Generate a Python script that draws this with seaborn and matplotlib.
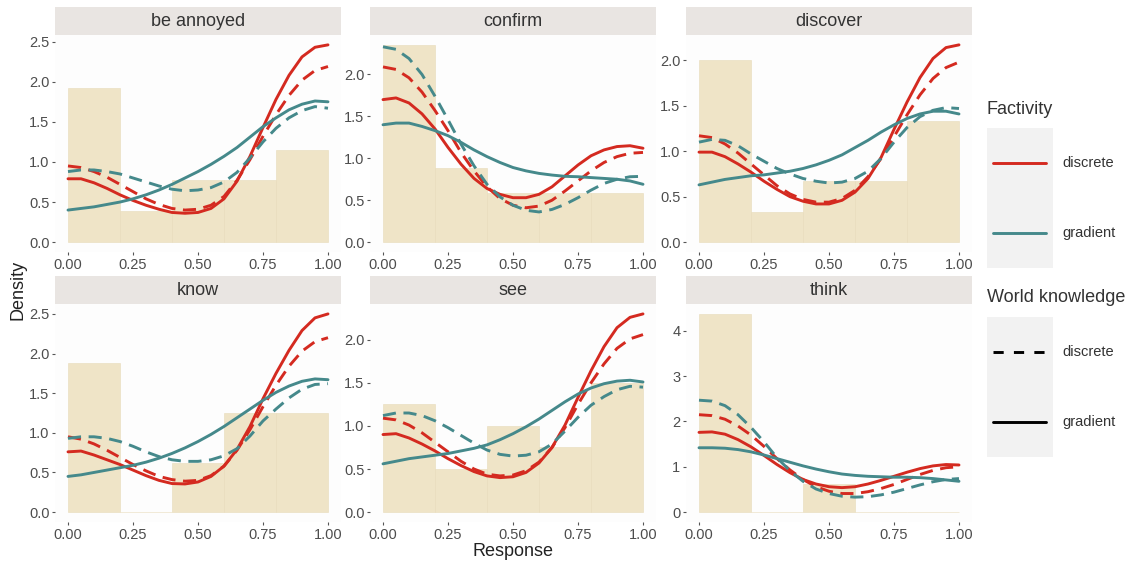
import numpy as np
import pandas as pd
import matplotlib
matplotlib.use("Agg")
import matplotlib.pyplot as plt
import seaborn as sns
from matplotlib.patches import Rectangle
from matplotlib.lines import Line2D

sns.set_theme(style="white")
plt.rcParams["font.family"] = ["Liberation Sans", "DejaVu Sans"]

response = [0.00, 0.05, 0.10, 0.15, 0.20, 0.25, 0.30, 0.35, 0.40, 0.45, 0.50,
            0.55, 0.60, 0.65, 0.70, 0.75, 0.80, 0.85, 0.90, 0.95, 1.00]
bin_left = [0.0, 0.2, 0.4, 0.6, 0.8]

predicates = ["be annoyed", "confirm", "discover", "know", "see", "think"]

# histogram densities (5 bins of width 0.2)
annoyed_hist = [1.923, 0.385, 0.769, 0.769, 1.154]
confirm_hist = [2.353, 0.882, 0.588, 0.588, 0.588]
discover_hist = [2.000, 0.333, 0.667, 0.667, 1.333]
know_hist = [1.875, 0.0, 0.625, 1.25, 1.25]
see_hist = [1.25, 0.5, 1.0, 0.75, 1.5]
think_hist = [4.375, 0.0, 0.625, 0.0, 0.0]

# curves: <predicate>_<factivity>_<world knowledge>
annoyed_disc_disc = [0.95, 0.93, 0.88, 0.81, 0.72, 0.63, 0.54, 0.47, 0.42, 0.40, 0.41,
                     0.46, 0.57, 0.77, 1.03, 1.32, 1.59, 1.83, 2.02, 2.14, 2.19]
annoyed_disc_grad = [0.79, 0.79, 0.74, 0.67, 0.59, 0.52, 0.46, 0.41, 0.37, 0.36, 0.37,
                     0.42, 0.54, 0.76, 1.07, 1.43, 1.78, 2.08, 2.31, 2.43, 2.46]
annoyed_grad_disc = [0.88, 0.90, 0.90, 0.88, 0.85, 0.80, 0.75, 0.70, 0.66, 0.64, 0.65,
                     0.68, 0.75, 0.87, 1.05, 1.25, 1.42, 1.55, 1.64, 1.69, 1.67]
annoyed_grad_grad = [0.40, 0.42, 0.44, 0.47, 0.50, 0.54, 0.59, 0.65, 0.72, 0.80, 0.88,
                     0.97, 1.07, 1.18, 1.31, 1.44, 1.55, 1.65, 1.72, 1.76, 1.75]

confirm_disc_disc = [2.09, 2.06, 1.96, 1.79, 1.57, 1.33, 1.07, 0.85, 0.66, 0.52, 0.44,
                     0.41, 0.43, 0.50, 0.61, 0.73, 0.85, 0.95, 1.02, 1.06, 1.07]
confirm_disc_grad = [1.70, 1.72, 1.66, 1.53, 1.35, 1.13, 0.93, 0.76, 0.64, 0.57, 0.53,
                     0.53, 0.57, 0.66, 0.79, 0.92, 1.03, 1.10, 1.14, 1.15, 1.12]
confirm_grad_disc = [2.33, 2.30, 2.19, 2.00, 1.74, 1.46, 1.17, 0.91, 0.69, 0.54, 0.44,
                     0.38, 0.36, 0.39, 0.45, 0.53, 0.62, 0.70, 0.75, 0.78, 0.785]
confirm_grad_grad = [1.40, 1.42, 1.42, 1.38, 1.33, 1.27, 1.19, 1.10, 1.02, 0.95, 0.89,
                     0.85, 0.82, 0.80, 0.785, 0.78, 0.77, 0.76, 0.75, 0.73, 0.69]

discover_disc_disc = [1.17, 1.15, 1.08, 0.98, 0.86, 0.74, 0.62, 0.53, 0.47, 0.44, 0.44,
                      0.48, 0.57, 0.72, 0.92, 1.16, 1.40, 1.62, 1.80, 1.92, 1.98]
discover_disc_grad = [0.99, 0.99, 0.94, 0.86, 0.77, 0.67, 0.58, 0.50, 0.45, 0.42, 0.42,
                      0.46, 0.55, 0.70, 0.93, 1.24, 1.54, 1.81, 2.02, 2.14, 2.17]
discover_grad_disc = [1.10, 1.13, 1.12, 1.06, 0.97, 0.89, 0.81, 0.75, 0.70, 0.67, 0.65,
                      0.66, 0.70, 0.78, 0.92, 1.10, 1.26, 1.38, 1.45, 1.48, 1.47]
discover_grad_grad = [0.63, 0.66, 0.69, 0.71, 0.73, 0.74, 0.76, 0.78, 0.81, 0.85, 0.90,
                      0.96, 1.04, 1.12, 1.21, 1.29, 1.36, 1.41, 1.44, 1.44, 1.41]

know_disc_disc = [0.95, 0.92, 0.86, 0.78, 0.69, 0.60, 0.52, 0.45, 0.41, 0.39, 0.40,
                  0.46, 0.58, 0.78, 1.04, 1.33, 1.60, 1.84, 2.03, 2.15, 2.20]
know_disc_grad = [0.76, 0.77, 0.72, 0.66, 0.60, 0.53, 0.46, 0.40, 0.36, 0.355, 0.38,
                  0.45, 0.58, 0.79, 1.08, 1.43, 1.75, 2.04, 2.29, 2.45, 2.50]
know_grad_disc = [0.93, 0.95, 0.95, 0.93, 0.89, 0.83, 0.76, 0.70, 0.66, 0.64, 0.64,
                  0.66, 0.71, 0.80, 0.96, 1.15, 1.30, 1.44, 1.55, 1.61, 1.62]
know_grad_grad = [0.45, 0.47, 0.50, 0.53, 0.56, 0.59, 0.63, 0.68, 0.74, 0.81, 0.89,
                  0.98, 1.08, 1.19, 1.30, 1.41, 1.51, 1.59, 1.65, 1.68, 1.67]

see_disc_disc = [1.09, 1.07, 1.01, 0.92, 0.81, 0.70, 0.59, 0.50, 0.44, 0.42, 0.43,
                 0.48, 0.58, 0.75, 0.98, 1.25, 1.50, 1.72, 1.90, 2.01, 2.06]
see_disc_grad = [0.90, 0.91, 0.86, 0.79, 0.71, 0.62, 0.54, 0.47, 0.42, 0.40, 0.41,
                 0.46, 0.57, 0.75, 1.01, 1.33, 1.64, 1.92, 2.14, 2.26, 2.30]
see_grad_disc = [1.12, 1.15, 1.15, 1.12, 1.06, 0.98, 0.89, 0.80, 0.72, 0.67, 0.65,
                 0.66, 0.70, 0.79, 0.94, 1.10, 1.24, 1.34, 1.42, 1.46, 1.45]
see_grad_grad = [0.56, 0.59, 0.62, 0.64, 0.66, 0.68, 0.71, 0.74, 0.78, 0.84, 0.91,
                 0.99, 1.08, 1.18, 1.28, 1.37, 1.44, 1.49, 1.52, 1.53, 1.51]

think_disc_disc = [2.15, 2.13, 2.05, 1.90, 1.70, 1.45, 1.18, 0.93, 0.72, 0.56, 0.46,
                   0.41, 0.41, 0.45, 0.52, 0.61, 0.72, 0.83, 0.92, 0.98, 1.00]
think_disc_grad = [1.76, 1.77, 1.72, 1.60, 1.44, 1.25, 1.05, 0.87, 0.72, 0.62, 0.56,
                   0.54, 0.56, 0.62, 0.70, 0.79, 0.88, 0.96, 1.02, 1.05, 1.04]
think_grad_disc = [2.47, 2.45, 2.35, 2.15, 1.87, 1.55, 1.20, 0.91, 0.68, 0.51, 0.41,
                   0.35, 0.33, 0.34, 0.38, 0.44, 0.52, 0.60, 0.67, 0.72, 0.74]
think_grad_grad = [1.42, 1.42, 1.41, 1.38, 1.33, 1.26, 1.18, 1.10, 1.02, 0.95, 0.89,
                   0.84, 0.81, 0.79, 0.78, 0.77, 0.77, 0.76, 0.74, 0.71, 0.68]

hists = [annoyed_hist, confirm_hist, discover_hist, know_hist, see_hist, think_hist]
curves = [
    [annoyed_disc_disc, annoyed_disc_grad, annoyed_grad_disc, annoyed_grad_grad],
    [confirm_disc_disc, confirm_disc_grad, confirm_grad_disc, confirm_grad_grad],
    [discover_disc_disc, discover_disc_grad, discover_grad_disc, discover_grad_grad],
    [know_disc_disc, know_disc_grad, know_grad_disc, know_grad_grad],
    [see_disc_disc, see_disc_grad, see_grad_disc, see_grad_grad],
    [think_disc_disc, think_disc_grad, think_grad_disc, think_grad_grad],
]
combos = [("discrete", "discrete"), ("discrete", "gradient"),
          ("gradient", "discrete"), ("gradient", "gradient")]

rows = []
for pred, pc in zip(predicates, curves):
    for (fac, wk), vals in zip(combos, pc):
        for x, y in zip(response, vals):
            rows.append({"predicate": pred, "Factivity": fac,
                         "World knowledge": wk, "Response": x, "Density": y})
df = pd.DataFrame(rows)

red = "#D42A20"
teal = "#45898B"
tan = "#EFE4C7"
palette = {"discrete": red, "gradient": teal}
dashes = {"discrete": (4.5, 2.6), "gradient": ""}
y_steps = [0.5, 0.5, 0.5, 0.5, 0.5, 1]

W, H = 1133, 565
fig = plt.figure(figsize=(W / 100, H / 100), dpi=100)
fig.patch.set_facecolor("white")

col_left = [55, 370, 686]
panel_w = 286
row_top = [35, 304]
panel_h = [217, 218]
strip_h = 28

for i, pred in enumerate(predicates):
    r, c = divmod(i, 3)
    left = col_left[c]
    top = row_top[r]
    ax = fig.add_axes([left / W, 1 - (top + panel_h[r]) / H, panel_w / W, panel_h[r] / H])
    ax.set_facecolor("#FDFDFD")
    ax.bar(bin_left, hists[i], width=0.2, align="edge", color=tan,
           edgecolor="#E8DBBB", linewidth=0.4, zorder=1)
    sub = df[df["predicate"] == pred]
    sns.lineplot(data=sub, x="Response", y="Density", hue="Factivity",
                 style="World knowledge", palette=palette, dashes=dashes,
                 hue_order=["discrete", "gradient"], style_order=["discrete", "gradient"],
                 linewidth=2.1, estimator=None, legend=False, ax=ax, zorder=3)
    ymax = max(max(hists[i]), sub["Density"].max())
    ax.set_xlim(-0.05, 1.05)
    ax.set_ylim(-0.05 * ymax, 1.05 * ymax)
    ax.set_xticks([0, 0.25, 0.5, 0.75, 1.0])
    ax.set_xticklabels(["0.00", "0.25", "0.50", "0.75", "1.00"])
    step = y_steps[i]
    yt = np.arange(0, 1.05 * ymax, step)
    ax.set_yticks(yt)
    if step < 1:
        ax.set_yticklabels([f"{v:.1f}" for v in yt])
    else:
        ax.set_yticklabels([f"{int(v)}" for v in yt])
    ax.tick_params(axis="both", which="both", labelsize=10.5, colors="#555555",
                   length=2.5, width=0.8, pad=1.5, left=True, bottom=True)
    ax.tick_params(axis="both", labelcolor="#4D4D4D")
    for s in ax.spines.values():
        s.set_visible(False)
    ax.set_xlabel("")
    ax.set_ylabel("")
    # facet strip
    sax = fig.add_axes([left / W, 1 - top / H, panel_w / W, strip_h / H])
    sax.set_facecolor("#E9E5E2")
    sax.set_xticks([])
    sax.set_yticks([])
    for s in sax.spines.values():
        s.set_visible(False)
    sax.text(0.5, 0.47, pred, ha="center", va="center", fontsize=13, color="#333333",
             transform=sax.transAxes)

fig.text(18 / W, 1 - 290 / H, "Density", rotation=90, ha="center", va="center",
         fontsize=13, color="#222222")
fig.text(513 / W, 1 - 551 / H, "Response", ha="center", va="center",
         fontsize=13, color="#222222")

# legend
lax = fig.add_axes([0, 0, 1, 1], facecolor="none")
lax.set_xlim(0, W)
lax.set_ylim(H, 0)
lax.axis("off")
legend_groups = [
    ("Factivity", 110, 128, [(red, "-", "discrete"), (teal, "-", "gradient")]),
    ("World knowledge", 298, 317, [("black", "--", "discrete"), ("black", "-", "gradient")]),
]
for title, ty, box_top, items in legend_groups:
    lax.text(987, ty, title, ha="left", va="center", fontsize=13, color="#333333")
    lax.add_patch(Rectangle((987, box_top), 66, 140, facecolor="#F2F2F2", edgecolor="none"))
    for k, (col, ls, lab) in enumerate(items):
        yy = box_top + 35 + k * 70
        ln = Line2D([993, 1046], [yy, yy], color=col, linewidth=2.1, linestyle=ls)
        if ls == "--":
            ln.set_dashes((3.5, 3.5))
        lax.add_line(ln)
        lax.text(1062, yy, lab, ha="left", va="center", fontsize=10.5, color="#333333")

fig.savefig("out.png", dpi=100)
